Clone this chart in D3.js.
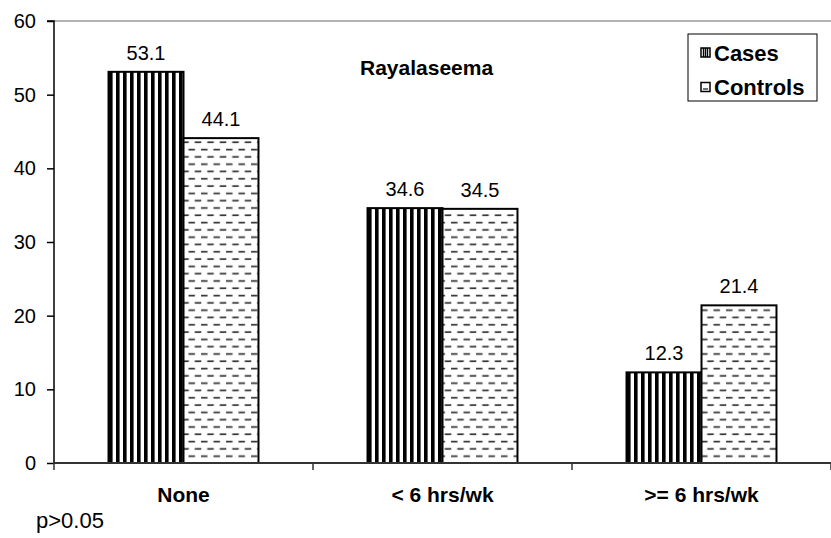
<!DOCTYPE html>
<html><head><meta charset="utf-8">
<script src="https://cdn.jsdelivr.net/npm/d3@7"></script>
<style>body{margin:0;background:#fff}svg{display:block;font-family:Arial,"Liberation Sans",sans-serif}</style>
</head><body>
<svg id="chart" width="831" height="538"></svg>
<script>
const categories = ["None", "< 6 hrs/wk", ">= 6 hrs/wk"];
const seriesNames = ["Cases", "Controls"];
const casesValues = [53.1, 34.6, 12.3];
const controlsValues = [44.1, 34.5, 21.4];
const yTicks = [0, 10, 20, 30, 40, 50, 60];
const titleText = "Rayalaseema";
const noteText = "p>0.05";

const svg = d3.select("#chart");
const W = 831, H = 538;
const M = {left: 54, right: 0, top: 21, bottom: 75};
const plotBottom = H - M.bottom;

const defs = svg.append("defs");
const pc = defs.append("pattern").attr("id","pCases").attr("patternUnits","userSpaceOnUse")
  .attr("width",7).attr("height",10).attr("x",109);
pc.append("rect").attr("width",7).attr("height",10).attr("fill","#fff");
pc.append("rect").attr("x",0).attr("width",3.6).attr("height",10).attr("fill","#000");
const pt = defs.append("pattern").attr("id","pCtrl").attr("patternUnits","userSpaceOnUse")
  .attr("width",12.5).attr("height",14.6).attr("y",0);
pt.append("rect").attr("width",12.5).attr("height",14.6).attr("fill","#fff");
pt.append("line").attr("x1",1).attr("x2",7.5).attr("y1",3.6).attr("y2",3.6).attr("stroke","#333").attr("stroke-width",1.7);
pt.append("line").attr("x1",7.25).attr("x2",13.75).attr("y1",10.9).attr("y2",10.9).attr("stroke","#333").attr("stroke-width",1.7);
pt.append("line").attr("x1",-5.25).attr("x2",1.25).attr("y1",10.9).attr("y2",10.9).attr("stroke","#333").attr("stroke-width",1.7);
const fills = ["url(#pCases)", "url(#pCtrl)"];

const y = d3.scaleLinear().domain([0, 60]).range([plotBottom, M.top]);
const x0 = d3.scaleBand().domain(categories).range([M.left, W - M.right])
  .paddingInner(0.421).paddingOuter(0.2105);
const x1 = d3.scaleBand().domain(seriesNames).range([0, x0.bandwidth()]).padding(0);

// top border line
svg.append("line").attr("x1", M.left).attr("x2", W).attr("y1", M.top).attr("y2", M.top)
  .attr("stroke", "#999").attr("stroke-width", 1.5);

const data = categories.map((c, i) => ({cat: c, vals: [casesValues[i], controlsValues[i]]}));

const g = svg.append("g");
data.forEach(d => {
  d.vals.forEach((v, j) => {
    const bx = x0(d.cat) + x1(seriesNames[j]);
    g.append("rect").attr("x", bx).attr("y", y(v)).attr("width", x1.bandwidth())
      .attr("height", y(0) - y(v)).attr("fill", fills[j]).attr("stroke", "#000").attr("stroke-width", 2);
    g.append("text").attr("x", bx + x1.bandwidth()/2).attr("y", y(v) - 12)
      .attr("text-anchor","middle").attr("font-size", 20).attr("fill","#000").text(v.toFixed(1));
  });
});

// y axis
const yAxis = d3.axisLeft(y).tickValues(yTicks).tickSize(7).tickPadding(11).tickFormat(d3.format("d"));
const ya = svg.append("g").attr("transform", `translate(${M.left},0)`).call(yAxis);
ya.select(".domain").attr("stroke","#000").attr("stroke-width",1.5).attr("d", `M-7,${M.top}H0V${plotBottom}`);
ya.selectAll(".tick line").attr("stroke","#000").attr("stroke-width",1.5);
ya.selectAll(".tick text").attr("font-size", 20).attr("fill","#000").attr("font-family","Arial,'Liberation Sans',sans-serif");

// x axis baseline
svg.append("line").attr("x1", M.left).attr("x2", W).attr("y1", plotBottom).attr("y2", plotBottom)
  .attr("stroke", "#333").attr("stroke-width", 2);
const bounds = categories.map(c => x0(c) - x0.step()*x0.paddingInner()/2);
bounds.push(W);
bounds.forEach(bx => {
  svg.append("line").attr("x1", bx).attr("x2", bx).attr("y1", plotBottom).attr("y2", plotBottom + 7)
    .attr("stroke","#333").attr("stroke-width",1.5);
});
categories.forEach(c => {
  svg.append("text").attr("x", x0(c) + x0.bandwidth()/2).attr("y", 502)
    .attr("text-anchor","middle").attr("font-size", 21).attr("font-weight","bold").text(c);
});

// title
svg.append("text").attr("x", 360).attr("y", 75).attr("text-anchor","start")
  .attr("font-size", 21).attr("font-weight","bold").text(titleText);

// note
svg.append("text").attr("x", 36).attr("y", 528).attr("font-size", 22).text(noteText);

// legend
const lg = svg.append("g").attr("transform","translate(688,34)");
lg.append("rect").attr("width",129).attr("height",67).attr("fill","#fff").attr("stroke","#000").attr("stroke-width",1);
seriesNames.forEach((s, i) => {
  const yy = 18.5 + i*34.5;
  lg.append("rect").attr("x",13).attr("y",yy-4.5).attr("width",9).attr("height",9).attr("fill","#fff").attr("stroke","#000").attr("stroke-width",1.5);
  if (i === 0) {
    [15.5, 17.5, 19.5].forEach(sx => lg.append("line").attr("x1",sx).attr("x2",sx).attr("y1",yy-4.5).attr("y2",yy+4.5).attr("stroke","#000").attr("stroke-width",1.4));
  } else {
    lg.append("line").attr("x1",15).attr("x2",20).attr("y1",yy+2).attr("y2",yy+2).attr("stroke","#333").attr("stroke-width",1.4);
  }
  lg.append("text").attr("x",26).attr("y",yy+8).attr("font-size",22).attr("font-weight","bold").text(s);
});
</script>
</body></html>
